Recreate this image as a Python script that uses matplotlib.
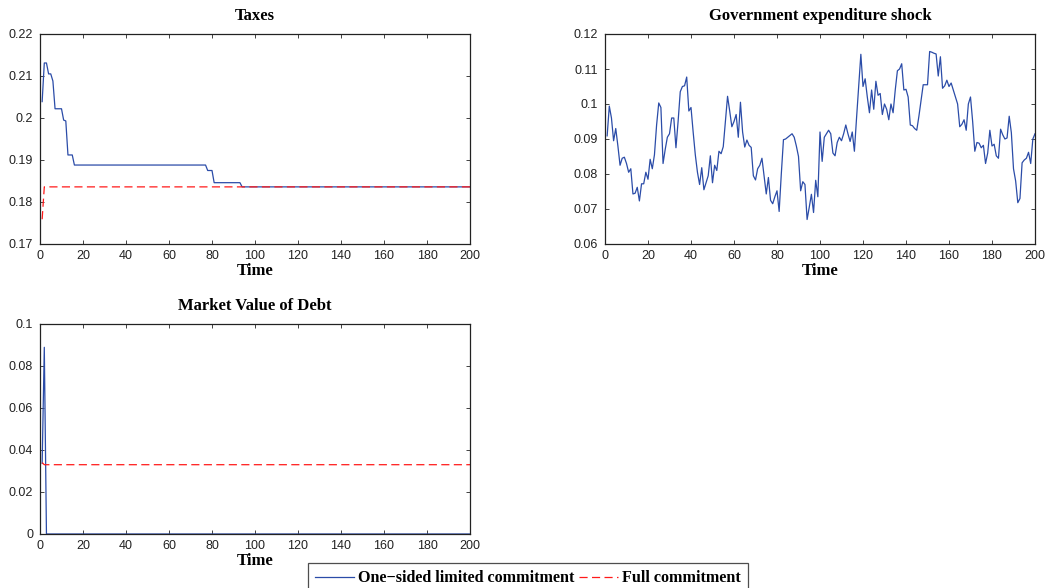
import numpy as np
import matplotlib.pyplot as plt
from matplotlib.lines import Line2D

# time axis
t = np.arange(1, 201)

# taxes, one-sided limited commitment (piecewise flat stretches)
tax_lc_head = [0.2039, 0.2131, 0.2131, 0.2105, 0.2105, 0.2088, 0.2022, 0.2022,
               0.2022, 0.2022, 0.1995, 0.1993, 0.1912, 0.1912, 0.1912]
tax_lc_mid1 = 0.1888   # t = 16..77
tax_lc_mid2 = 0.1875   # t = 78..80
tax_lc_mid3 = 0.1846   # t = 81..93
tax_lc_tail = 0.1836   # t = 94..200
tax_lc = np.array(tax_lc_head + [tax_lc_mid1] * 62 + [tax_lc_mid2] * 3
                  + [tax_lc_mid3] * 13 + [tax_lc_tail] * 107)

# taxes, full commitment
tax_fc = np.array([0.1759] + [0.1836] * 199)

# government expenditure shock
g = np.array([
    0.0909, 0.0994, 0.0960, 0.0895, 0.0930, 0.0880, 0.0825, 0.0845, 0.0848, 0.0830,
    0.0805, 0.0815, 0.0743, 0.0745, 0.0762, 0.0723, 0.0772, 0.0772, 0.0805, 0.0785,
    0.0842, 0.0815, 0.0855, 0.0940, 0.1003, 0.0990, 0.0830, 0.0870, 0.0905, 0.0915,
    0.0960, 0.0960, 0.0875, 0.0950, 0.1035, 0.1050, 0.1052, 0.1077, 0.0980, 0.0990,
    0.0920, 0.0855, 0.0805, 0.0770, 0.0818, 0.0755, 0.0775, 0.0795, 0.0852, 0.0775,
    0.0825, 0.0810, 0.0865, 0.0858, 0.0878, 0.0950, 0.1022, 0.0980, 0.0935, 0.0950,
    0.0970, 0.0905, 0.1005, 0.0920, 0.0877, 0.0897, 0.0882, 0.0876, 0.0795, 0.0783,
    0.0815, 0.0825, 0.0845, 0.0795, 0.0743, 0.0790, 0.0725, 0.0715, 0.0735, 0.0752,
    0.0693, 0.0800, 0.0898, 0.0900, 0.0905, 0.0910, 0.0915, 0.0905, 0.0880, 0.0850,
    0.0752, 0.0778, 0.0770, 0.0670, 0.0705, 0.0742, 0.0690, 0.0782, 0.0735, 0.0920,
    0.0836, 0.0905, 0.0915, 0.0925, 0.0915, 0.0860, 0.0852, 0.0890, 0.0905, 0.0895,
    0.0915, 0.0940, 0.0915, 0.0893, 0.0920, 0.0865, 0.0960, 0.1050, 0.1142, 0.1050,
    0.1072, 0.1020, 0.0975, 0.1040, 0.0985, 0.1065, 0.1025, 0.1030, 0.0970, 0.1000,
    0.0985, 0.0955, 0.1000, 0.0975, 0.1040, 0.1095, 0.1100, 0.1115, 0.1040, 0.1042,
    0.1020, 0.0940, 0.0938, 0.0930, 0.0925, 0.0965, 0.1010, 0.1055, 0.1055, 0.1055,
    0.1150, 0.1148, 0.1145, 0.1143, 0.1080, 0.1135, 0.1045, 0.1052, 0.1068, 0.1050,
    0.1060, 0.1040, 0.1020, 0.1000, 0.0935, 0.0942, 0.0955, 0.0925, 0.1000, 0.1020,
    0.0950, 0.0865, 0.0890, 0.0888, 0.0875, 0.0882, 0.0830, 0.0860, 0.0925, 0.0880,
    0.0885, 0.0852, 0.0845, 0.0928, 0.0912, 0.0900, 0.0903, 0.0965, 0.0918, 0.0815,
    0.0780, 0.0718, 0.0730, 0.0832, 0.0840, 0.0845, 0.0862, 0.0830, 0.0900, 0.0915,
])

# market value of debt
debt_lc = np.array([0.0336, 0.0889] + [0.0] * 198)
debt_fc = np.array([0.0340] + [0.0330] * 199)

blue = '#2b4ca8'
red = '#ff1a1a'
dash = (0, (6.5, 3.5))
serif = 'Liberation Serif'
plt.rcParams['font.family'] = 'Liberation Sans'

fig = plt.figure(figsize=(10.47, 5.88), dpi=100)
W, H = 1047, 588


def make_ax(left, top, right, bottom):
    return fig.add_axes([left / W, 1 - bottom / H, (right - left) / W, (bottom - top) / H])


def style(ax, title, ylim, yticks, yticklabels):
    ax.set_xlim(0, 200)
    ax.set_ylim(*ylim)
    ax.set_xticks(np.arange(0, 201, 20))
    ax.set_yticks(yticks)
    ax.set_yticklabels(yticklabels)
    ax.tick_params(direction='in', top=True, right=True, length=3, width=0.6,
                   labelsize=9, colors='#222222')
    ax.tick_params(axis='x', pad=4)
    ax.tick_params(axis='y', pad=5)
    for s in ax.spines.values():
        s.set_linewidth(0.9)
        s.set_color('#222222')
    ax.set_title(title, fontfamily=serif, fontweight='bold', fontsize=12, pad=10)
    ax.set_xlabel('Time', fontfamily=serif, fontweight='bold', fontsize=12, labelpad=1)


ax1 = make_ax(40, 34, 470, 244)
ax1.plot(t, tax_lc, color=blue, lw=0.9)
ax1.plot(t, tax_fc, color=red, lw=0.9, ls=dash)
style(ax1, 'Taxes', (0.17, 0.22), [0.17, 0.18, 0.19, 0.2, 0.21, 0.22],
      ['0.17', '0.18', '0.19', '0.2', '0.21', '0.22'])

ax2 = make_ax(605, 34, 1035, 244)
ax2.plot(t, g, color=blue, lw=0.9)
style(ax2, 'Government expenditure shock', (0.06, 0.12),
      [0.06, 0.07, 0.08, 0.09, 0.1, 0.11, 0.12],
      ['0.06', '0.07', '0.08', '0.09', '0.1', '0.11', '0.12'])

ax3 = make_ax(40, 324, 470, 534)
ax3.plot(t, debt_lc, color=blue, lw=0.9)
ax3.plot(t, debt_fc, color=red, lw=0.9, ls=dash)
style(ax3, 'Market Value of Debt', (0, 0.1), [0, 0.02, 0.04, 0.06, 0.08, 0.1],
      ['0', '0.02', '0.04', '0.06', '0.08', '0.1'])

handles = [Line2D([], [], color=blue, lw=0.9),
           Line2D([], [], color=red, lw=0.9, ls=dash)]
leg = fig.legend(handles, ['One\u2212sided limited commitment', 'Full commitment'],
                 ncol=2, loc='upper left', bbox_to_anchor=(308 / W, 1 - 563 / H),
                 frameon=True, fancybox=False, edgecolor='#222222',
                 prop={'family': serif, 'weight': 'bold', 'size': 11.6},
                 handlelength=2.4, handletextpad=0.25, columnspacing=0.3,
                 borderpad=0.45, borderaxespad=0)
leg.get_frame().set_linewidth(0.9)

fig.savefig('out.png', dpi=100)
